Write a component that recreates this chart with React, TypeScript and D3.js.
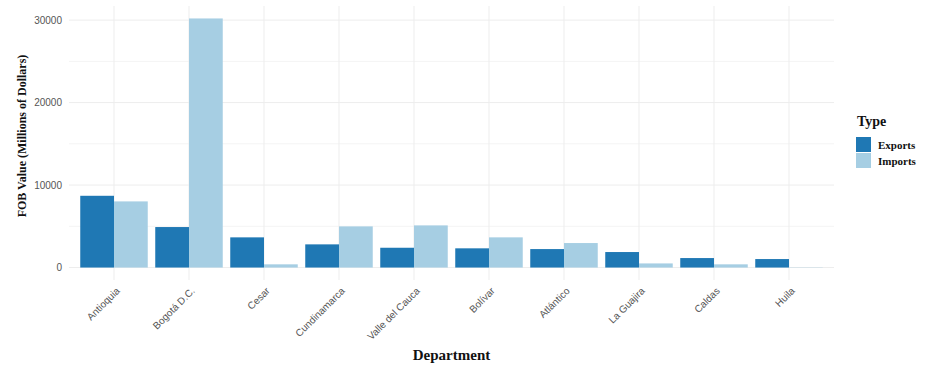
import React from "react";
import * as d3 from "d3";

const departments = ["Antioquia", "Bogotá D.C.", "Cesar", "Cundinamarca", "Valle del Cauca", "Bolívar", "Atlántico", "La Guajira", "Caldas", "Huila"];
const exportsValues = [8700, 4910, 3660, 2810, 2400, 2330, 2240, 1880, 1150, 1030];
const importsValues = [8020, 30200, 390, 4990, 5110, 3660, 2970, 500, 390, 30];
const seriesNames = ["Exports", "Imports"];
const seriesColors = ["#1f78b4", "#a6cee3"];
const yTicks = [0, 10000, 20000, 30000];
const yMinorTicks = [5000, 15000, 25000];

const W = 934;
const H = 383;
const panel = { left: 69, right: 834, top: 6, bottom: 280 };

export default function App() {
  const maxV = d3.max([...exportsValues, ...importsValues]) as number;
  const pad = maxV * 0.05;
  const y = d3.scaleLinear().domain([-pad, maxV + pad]).range([panel.bottom, panel.top]);
  const x = d3.scaleBand<string>().domain(departments).range([panel.left, panel.right]).paddingOuter(0.1).paddingInner(0);
  // ggplot discrete expansion: 0.6 units each side
  const step = (panel.right - panel.left) / (departments.length - 1 + 1.2);
  const cx = (i: number) => panel.left + step * (0.6 + i);
  const inner = d3.scaleBand<string>().domain(seriesNames).range([-step * 0.45, step * 0.45]);
  const grid = "#ededed";
  const values = [exportsValues, importsValues];

  return (
    <svg width={W} height={H} style={{ position: "absolute", left: 0, top: 0, background: "#fff" }}>
      {yMinorTicks.map((t) => (
        <line key={"m" + t} x1={panel.left} x2={panel.right} y1={y(t)} y2={y(t)} stroke="#f4f4f4" strokeWidth={1} />
      ))}
      {yTicks.map((t) => (
        <line key={"g" + t} x1={panel.left} x2={panel.right} y1={y(t)} y2={y(t)} stroke={grid} strokeWidth={1} />
      ))}
      {departments.map((d, i) => (
        <line key={"v" + d} x1={cx(i)} x2={cx(i)} y1={panel.top} y2={panel.bottom} stroke={grid} strokeWidth={1} />
      ))}
      {departments.map((d, i) =>
        seriesNames.map((s, j) => {
          const v = values[j][i];
          return (
            <rect
              key={d + s}
              x={cx(i) + (inner(s) as number)}
              width={inner.bandwidth()}
              y={y(v)}
              height={y(0) - y(v)}
              fill={seriesColors[j]}
            />
          );
        })
      )}
      {yTicks.map((t) => (
        <text key={"yt" + t} x={62} y={y(t)} dy="0.35em" textAnchor="end" fontFamily="Liberation Sans, Arial, sans-serif" fontSize={10} fill="#555">
          {t}
        </text>
      ))}
      {departments.map((d, i) => (
        <text
          key={"xt" + d}
          transform={`translate(${cx(i) + 4},${panel.bottom + 9}) rotate(-45)`}
          textAnchor="end"
          dy="0.35em"
          fontFamily="Liberation Sans, Arial, sans-serif"
          fontSize={10}
          fill="#555"
        >
          {d}
        </text>
      ))}
      <text
        transform={`translate(26,${(panel.top + panel.bottom) / 2 - 7}) rotate(-90)`}
        textAnchor="middle"
        fontFamily="Liberation Serif, Times New Roman, serif"
        fontWeight="bold"
        fontSize={12}
        fill="#111"
      >
        FOB Value (Millions of Dollars)
      </text>
      <text
        x={(panel.left + panel.right) / 2}
        y={360}
        textAnchor="middle"
        fontFamily="Liberation Serif, Times New Roman, serif"
        fontWeight="bold"
        fontSize={15}
        fill="#111"
      >
        Department
      </text>
      <text x={857} y={126} fontFamily="Liberation Serif, Times New Roman, serif" fontWeight="bold" fontSize={14} fill="#111">
        Type
      </text>
      {seriesNames.map((s, j) => (
        <g key={"lg" + s}>
          <rect x={856} y={137 + j * 16} width={15} height={15} fill={seriesColors[j]} />
          <text x={878} y={145 + j * 16} dy="0.35em" fontFamily="Liberation Serif, Times New Roman, serif" fontWeight="bold" fontSize={11} fill="#111">
            {s}
          </text>
        </g>
      ))}
    </svg>
  );
}
